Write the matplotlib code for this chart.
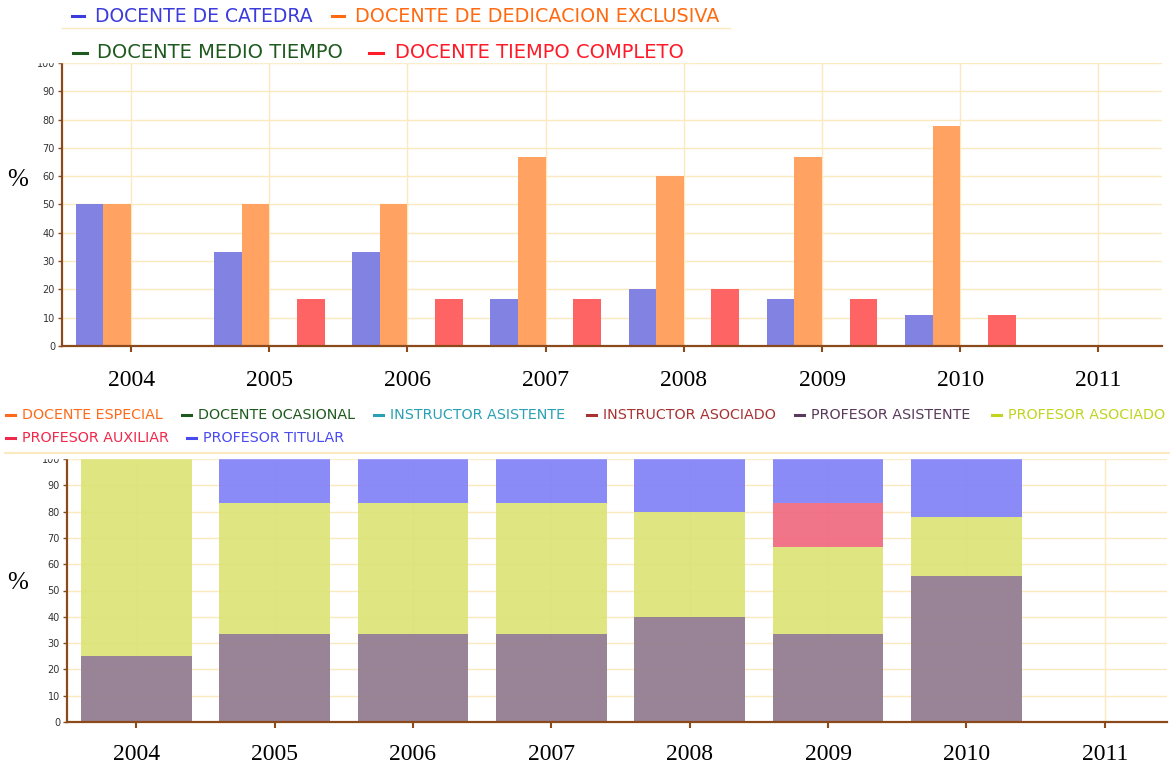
import matplotlib
matplotlib.use('Agg')
import matplotlib.pyplot as plt
import numpy as np
from matplotlib.lines import Line2D
from matplotlib.patches import Rectangle

W, H = 1170, 765

years = ['2004', '2005', '2006', '2007', '2008', '2009', '2010', '2011']

# top chart: share of teachers by dedication (%)
catedra = [50, 33.3, 33.3, 16.7, 20, 16.7, 11.1, 0]
dedicacion_exclusiva = [50, 50, 50, 66.7, 60, 66.7, 77.8, 0]
medio_tiempo = [0, 0, 0, 0, 0, 0, 0, 0]
tiempo_completo = [0, 16.7, 16.7, 16.7, 20, 16.7, 11.1, 0]

# bottom chart: share of teachers by category (%), stacked
docente_especial = [0, 0, 0, 0, 0, 0, 0, 0]
docente_ocasional = [0, 0, 0, 0, 0, 0, 0, 0]
instructor_asistente = [0, 0, 0, 0, 0, 0, 0, 0]
instructor_asociado = [0, 0, 0, 0, 0, 0, 0, 0]
profesor_asistente = [25, 33.3, 33.3, 33.3, 40, 33.3, 55.6, 0]
profesor_asociado = [75, 50, 50, 50, 40, 33.3, 22.2, 0]
profesor_auxiliar = [0, 0, 0, 0, 0, 16.7, 0, 0]
profesor_titular = [0, 16.7, 16.7, 16.7, 20, 16.7, 22.2, 0]

BROWN = '#8B4A1C'
GRID = '#FBEAC0'


def fx(px):
    return px / W


def fy(py):
    return 1 - py / H


def style_axes(ax, pad):
    ax.set_ylim(0, 100)
    ax.set_xticks(np.arange(len(years)))
    ax.set_xticklabels(years, fontfamily='Liberation Serif', fontsize=17)
    ax.set_yticks(range(0, 101, 10))
    ax.tick_params(axis='y', labelsize=7, colors=BROWN, length=3, width=1, pad=2)
    ax.tick_params(axis='y', labelcolor='#333333')
    ax.tick_params(axis='x', colors=BROWN, labelcolor='black', length=4,
                   width=1.5, pad=pad)
    for s in ['top', 'right']:
        ax.spines[s].set_visible(False)
    for s in ['left', 'bottom']:
        ax.spines[s].set_color(BROWN)
        ax.spines[s].set_linewidth(1.6)
    ax.grid(color=GRID, lw=1)
    ax.set_axisbelow(True)


def legend_entry(fig, label, color, x_text, y, size, dash, gap):
    fig.add_artist(Line2D([fx(x_text - dash - gap), fx(x_text - gap)], [fy(y), fy(y)],
                          color=color, lw=2.2, transform=fig.transFigure, zorder=10))
    fig.text(fx(x_text), fy(y), label, color=color, fontsize=size,
             va='center', ha='left', zorder=10)


fig = plt.figure(figsize=(W / 100, H / 100), dpi=100)

# ---- top chart
ax1 = fig.add_axes([fx(62), fy(346), fx(1100), 283 / H])
x = np.arange(len(years))
w = 0.2
ax1.bar(x - 1.5 * w, catedra, w, color='#8282E2')
ax1.bar(x - 0.5 * w, dedicacion_exclusiva, w, color='#FFA262')
ax1.bar(x + 0.5 * w, medio_tiempo, w, color='#3C7A3C')
ax1.bar(x + 1.5 * w, tiempo_completo, w, color='#FF6464')
ax1.set_xlim(-0.5, 7.46)
style_axes(ax1, 13)
fig.text(fx(18), fy(180), '%', fontfamily='Liberation Serif', fontsize=18,
         ha='center', va='center')

# ---- bottom chart
ax2 = fig.add_axes([fx(67), fy(722), fx(1100), 263 / H])
stack = [
    (docente_especial, '#FF8C40'),
    (docente_ocasional, '#3C7A3C'),
    (instructor_asistente, '#40B0C0'),
    (instructor_asociado, '#B04848'),
    (profesor_asistente, '#917B8F'),
    (profesor_asociado, '#DCE377'),
    (profesor_auxiliar, '#F06A80'),
    (profesor_titular, '#8282F8'),
]
base = np.zeros(len(years))
for vals, col in stack:
    vals = np.array(vals, dtype=float)
    ax2.bar(x, vals, 0.8, bottom=base, color=col, alpha=0.93, lw=0)
    base += vals
ax2.set_xlim(-0.5, 7.45)
style_axes(ax2, 12)
fig.text(fx(18), fy(583), '%', fontfamily='Liberation Serif', fontsize=18,
         ha='center', va='center')

# white bands where the legends overlap the plot tops
fig.add_artist(Rectangle((fx(28), fy(62)), fx(667), 62 / H, transform=fig.transFigure,
                         color='white', zorder=5))
fig.add_artist(Rectangle((0, fy(458)), 1, 60 / H, transform=fig.transFigure,
                         color='white', zorder=5))
fig.add_artist(Line2D([fx(62), fx(730)], [fy(28), fy(28)], color=GRID, lw=1,
                      transform=fig.transFigure, zorder=6))
fig.add_artist(Line2D([fx(5), fx(1170)], [fy(453), fy(453)], color=GRID, lw=1.5,
                      transform=fig.transFigure, zorder=6))

# ---- legends
legend_entry(fig, 'DOCENTE DE CATEDRA', '#3C3CDC', 95, 16, 13.5, 12, 11)
legend_entry(fig, 'DOCENTE DE DEDICACION EXCLUSIVA', '#FF6A10', 355, 16, 13.8, 12, 11)
legend_entry(fig, 'DOCENTE MEDIO TIEMPO', '#1E5A1E', 97, 53, 14, 14, 10)
legend_entry(fig, 'DOCENTE TIEMPO COMPLETO', '#FF1A28', 395, 53, 14, 14, 12)

legend_entry(fig, 'DOCENTE ESPECIAL', '#FF6A1A', 22, 415, 10.3, 9, 7)
legend_entry(fig, 'DOCENTE OCASIONAL', '#1E5A1E', 198, 415, 10.3, 9, 7)
legend_entry(fig, 'INSTRUCTOR ASISTENTE', '#2AA0B4', 390, 415, 10.3, 9, 7)
legend_entry(fig, 'INSTRUCTOR ASOCIADO', '#A83232', 603, 415, 10.3, 9, 7)
legend_entry(fig, 'PROFESOR ASISTENTE', '#5A3A5C', 811, 415, 10.3, 9, 7)
legend_entry(fig, 'PROFESOR ASOCIADO', '#C0D420', 1008, 415, 10.3, 9, 7)
legend_entry(fig, 'PROFESOR AUXILIAR', '#F0284C', 22, 438, 10.3, 9, 7)
legend_entry(fig, 'PROFESOR TITULAR', '#4A4AF0', 203, 438, 10.3, 9, 7)

fig.savefig('out.png', dpi=100)
